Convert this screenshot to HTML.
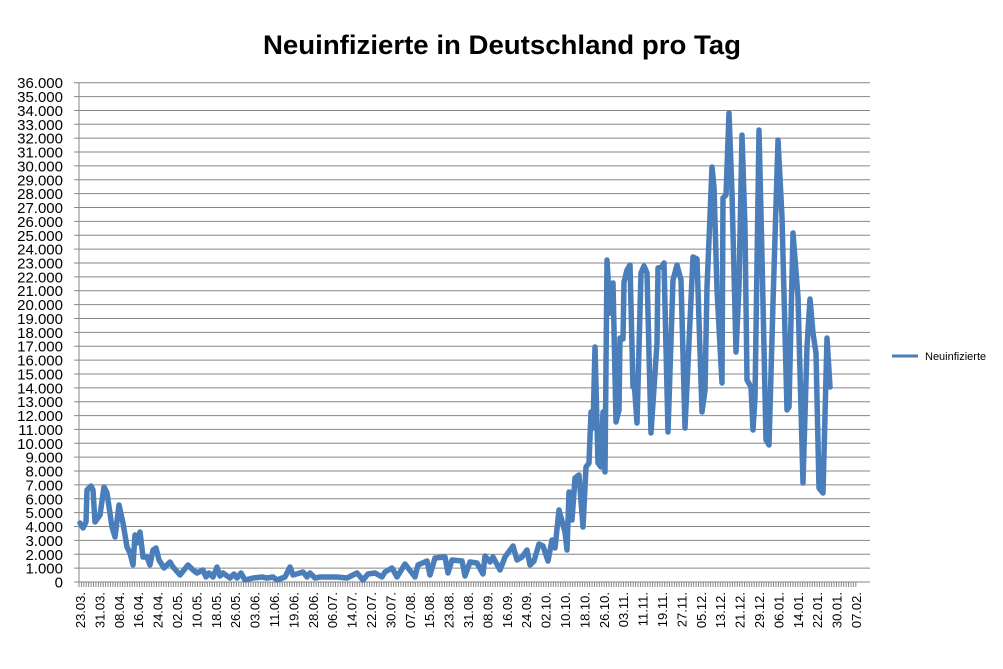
<!DOCTYPE html>
<html><head><meta charset="utf-8"><style>
body{margin:0;background:#fff;width:1003px;height:664px;overflow:hidden}
svg{font-family:"Liberation Sans",sans-serif}
</style></head><body>
<svg width="1003" height="664" viewBox="0 0 1003 664" xmlns="http://www.w3.org/2000/svg">
<text x="502" y="54" text-anchor="middle" font-size="27" font-weight="bold" fill="#000" textLength="478" lengthAdjust="spacingAndGlyphs">Neuinfizierte in Deutschland pro Tag</text>
<g id="grid" stroke="#868686" stroke-width="1"></g>
<g id="ylab" font-size="15" fill="#000" text-anchor="end"></g>
<g id="xt" stroke="#868686" stroke-width="1"></g>
<g id="xlab" font-size="13" fill="#000"></g>
<polyline fill="none" stroke="#4a7ebb" stroke-width="5.5" stroke-linejoin="round" stroke-linecap="round" points="
80,523 83,528 86,522 87,490 91,486 93,490 95,522 100,515 104,487 107,493 112,527 115,537 119,505 123,523 127,547 130,553 133,565 135,535 137,543 140,532 143,557 147,557 150,565 153,550 156,548 159,560 164,568 170,562 173,567 180,575 188,565 193,570 197,573 203,570 206,577 209,573 213,577 217,567 220,576 223,573 230,578 234,574 237,578 241,573 245,580 253,578 262,577 267,578 273,577 277,580 285,577 290,567 293,575 300,573 303,572 307,577 310,573 315,578 320,577 330,577
337,577 347,578 357,573 363,580 368,574 375,573 382,577 385,572 392,568 397,577 405,564 415,577 418,565 427,561 430,575 435,558 445,557 448,573 452,560 462,561 465,576 470,562 477,563 483,574 485,556 490,562 493,557 500,570 505,557 513,546 517,560 522,557 527,550 530,565 534,561 539,544 543,546 548,561 552,540 555,548 559,510 565,532 567,550 569,492 572,520 575,478 579,475 583,527 586,467
589,463 591,412 593,428 595,347 598,463 601,467 603,412 605,472 607,260 610,313 613,283 616,422 619,410 620,338 623,339 624,282 627,270 630,265 633,387 634,380 637,423 641,273 644,266 647,273 651,433 657,343 658,268 662,267 664,263 668,432 673,280 677,265 681,280 685,428 693,257 697,259 702,412 705,390 707,287 709,240 712,167 714,187 717,290 722,383 723,198 726,195 729,113 732,193 736,352 739,287 742,135 745,228 747,380 751,387 753,430 755,398 759,130 762,257 766,440 769,445 773,303 778,140 782,217 787,410 789,407 793,233 798,297 803,483 807,347 810,299 813,333 816,353 819,488 823,493 827,338 830,387"/>
<line x1="892" y1="356" x2="918" y2="356" stroke="#4a7ebb" stroke-width="3"/>
<text x="925" y="360" font-size="11" fill="#000">Neuinfizierte</text>
</svg>
<script>
var ns="http://www.w3.org/2000/svg";
function el(t,a,p,txt){var e=document.createElementNS(ns,t);for(var k in a)e.setAttribute(k,a[k]);if(txt)e.textContent=txt;document.getElementById(p).appendChild(e);}
var y0=582,y36=82.7,s=(y0-y36)/36;
for(var i=0;i<=36;i++){var y=y0-i*s;el('line',{x1:74,x2:870,y1:y,y2:y},'grid');
el('text',{x:63,y:y+5.5},'ylab',i==0?'0':i+'.000');}
el('line',{x1:79,x2:79,y1:y36,y2:y0+5},'grid');
for(var x=79;x<=858;x+=2.42)el('line',{x1:x,x2:x,y1:y0,y2:y0+5},'xt');
var L="23.03.,31.03.,08.04.,16.04.,24.04.,02.05.,10.05.,18.05.,26.05.,03.06.,11.06.,19.06.,28.06.,06.07.,14.07.,22.07.,30.07.,07.08.,15.08.,23.08.,31.08.,08.09.,16.09.,24.09.,02.10.,10.10.,18.10.,26.10.,03.11.,11.11.,19.11.,27.11.,05.12.,13.12.,21.12.,29.12.,06.01.,14.01.,22.01.,30.01.,07.02.".split(",");
for(var i=0;i<L.length;i++){var x=80+i*19.4+5;el('text',{x:x,y:592,transform:'rotate(-90 '+x+' 592)','text-anchor':'end'},'xlab',L[i]);}
</script>
</body></html>
